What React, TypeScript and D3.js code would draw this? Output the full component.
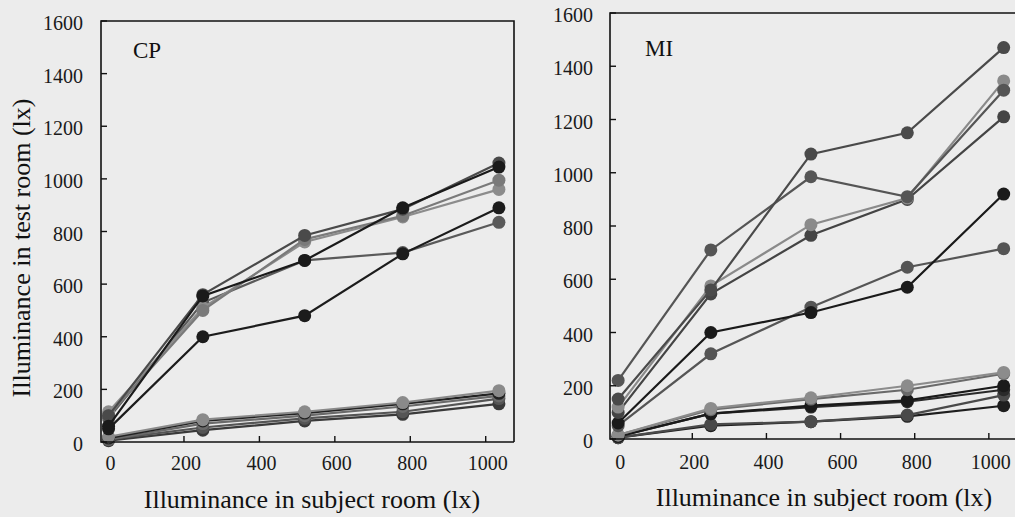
import React from "react";
import * as d3 from "d3";

const W = 1015;
const H = 517;

// x positions (lx in subject room)
const cpX = [0, 250, 520, 780, 1035];
const miX = [0, 250, 520, 780, 1040];

// CP panel series (lx in test room)
const cpA = [60, 555, 690, 890, 1045];
const cpB = [100, 560, 785, 885, 1060];
const cpC = [115, 510, 760, 855, 960];
const cpD = [100, 500, 770, 860, 995];
const cpE = [90, 530, 690, 720, 835];
const cpF = [50, 400, 480, 715, 890];
const cpL1 = [20, 85, 115, 150, 195];
const cpL2 = [15, 80, 110, 145, 185];
const cpL3 = [10, 70, 100, 135, 175];
const cpL4 = [10, 55, 90, 115, 165];
const cpL5 = [5, 45, 80, 105, 145];

// MI panel series
const miA = [220, 710, 985, 910, 1310];
const miB = [150, 560, 1070, 1150, 1470];
const miC = [120, 575, 805, 905, 1345];
const miD = [100, 545, 765, 900, 1210];
const miE = [60, 400, 475, 570, 920];
const miF = [50, 320, 495, 645, 715];
const miL1 = [15, 115, 155, 200, 250];
const miL2 = [15, 110, 150, 185, 245];
const miL3 = [10, 95, 125, 145, 200];
const miL4 = [10, 95, 120, 140, 185];
const miL5 = [5, 55, 65, 90, 165];
const miL6 = [5, 50, 65, 85, 125];

const xTicks = [0, 200, 400, 600, 800, 1000];
const yTicks = [0, 200, 400, 600, 800, 1000, 1200, 1400, 1600];

const cpSeries = [
  { v: cpL5, c: "#3a3a3a" },
  { v: cpL4, c: "#555555" },
  { v: cpL3, c: "#6a6a6a" },
  { v: cpL2, c: "#222222" },
  { v: cpL1, c: "#8a8a8a" },
  { v: cpE, c: "#5a5a5a" },
  { v: cpF, c: "#1c1c1c" },
  { v: cpC, c: "#8c8c8c" },
  { v: cpD, c: "#7a7a7a" },
  { v: cpB, c: "#4a4a4a" },
  { v: cpA, c: "#1a1a1a" },
];

const miSeries = [
  { v: miL6, c: "#1e1e1e" },
  { v: miL5, c: "#4a4a4a" },
  { v: miL4, c: "#2a2a2a" },
  { v: miL3, c: "#1a1a1a" },
  { v: miL2, c: "#6a6a6a" },
  { v: miL1, c: "#8c8c8c" },
  { v: miF, c: "#555555" },
  { v: miE, c: "#1a1a1a" },
  { v: miD, c: "#444444" },
  { v: miC, c: "#8a8a8a" },
  { v: miA, c: "#555555" },
  { v: miB, c: "#4a4a4a" },
];

const FONT = "'Liberation Serif', 'DejaVu Serif', serif";

type PanelProps = {
  xs: number[];
  series: { v: number[]; c: string }[];
  xRange: [number, number];
  xDomain: [number, number];
  yRange: [number, number];
  label: string;
  labelPos: [number, number];
  yLabelGap: number;
  xLabelY: number;
  titleY: number;
  titleX: number;
};

function Panel(p: PanelProps) {
  const x = d3.scaleLinear().domain(p.xDomain).range(p.xRange);
  const y = d3.scaleLinear().domain([0, 1600]).range(p.yRange);
  const line = d3
    .line<[number, number]>()
    .x((d) => x(d[0]))
    .y((d) => y(d[1]));
  const [x0, x1] = p.xRange;
  const [yb, yt] = p.yRange;
  return (
    <g>
      {p.series.map((s, i) => (
        <g key={i}>
          <path
            d={line(p.xs.map((xx, j) => [xx, s.v[j]] as [number, number])) || ""}
            fill="none"
            stroke={s.c}
            strokeWidth={2.2}
          />
          {p.xs.map((xx, j) => (
            <circle key={j} cx={x(xx)} cy={y(s.v[j])} r={6.5} fill={s.c} />
          ))}
        </g>
      ))}
      <path
        d={`M${x1},${yb}L${x0},${yb}L${x0},${yt}L${x1},${yt}L${x1},${yb}`}
        fill="none"
        stroke="#111"
        strokeWidth={1.6}
      />
      {yTicks.map((t) => (
        <g key={"y" + t}>
          <line x1={x0} x2={x0 + 6} y1={y(t)} y2={y(t)} stroke="#111" strokeWidth={1.4} />
          <text
            x={x0 - p.yLabelGap}
            y={y(t) + 2}
            textAnchor="end"
            dominantBaseline="central"
            fontFamily={FONT}
            fontSize={20}
            fill="#1a1a1a"
          >
            {t}
          </text>
        </g>
      ))}
      {xTicks.map((t) => (
        <g key={"x" + t}>
          {t > 0 && (
            <line x1={x(t)} x2={x(t)} y1={yb} y2={yb - 6} stroke="#111" strokeWidth={1.4} />
          )}
          <text
            x={x(t) + 2}
            y={p.xLabelY}
            textAnchor="middle"
            dominantBaseline="central"
            fontFamily={FONT}
            fontSize={20}
            fill="#1a1a1a"
          >
            {t}
          </text>
        </g>
      ))}
      <text
        x={p.labelPos[0]}
        y={p.labelPos[1]}
        fontFamily={FONT}
        fontSize={23}
        fill="#111"
      >
        {p.label}
      </text>
      <text
        x={p.titleX}
        y={p.titleY}
        textAnchor="middle"
        fontFamily={FONT}
        fontSize={26}
        fill="#111"
      >
        Illuminance in subject room (lx)
      </text>
    </g>
  );
}

export default function App() {
  return (
    <svg
      width={W}
      height={H}
      style={{ position: "fixed", left: 0, top: 0, background: "#ececec" }}
    >
      <rect x={0} y={0} width={W} height={H} fill="#ececec" />
      <Panel
        xs={cpX}
        series={cpSeries}
        xRange={[101, 514]}
        xDomain={[-20, 1075]}
        yRange={[442, 21]}
        label="CP"
        labelPos={[133, 58]}
        yLabelGap={18}
        xLabelY={463}
        titleY={508}
        titleX={312}
      />
      <Panel
        xs={miX}
        series={miSeries}
        xRange={[610, 1030]}
        xDomain={[-22, 1111]}
        yRange={[439, 13]}
        label="MI"
        labelPos={[645, 56]}
        yLabelGap={17}
        xLabelY={462}
        titleY={506}
        titleX={824}
      />
      <text
        transform={`translate(30,248) rotate(-90)`}
        textAnchor="middle"
        fontFamily={FONT}
        fontSize={26}
        fill="#111"
      >
        Illuminance in test room (lx)
      </text>
    </svg>
  );
}
